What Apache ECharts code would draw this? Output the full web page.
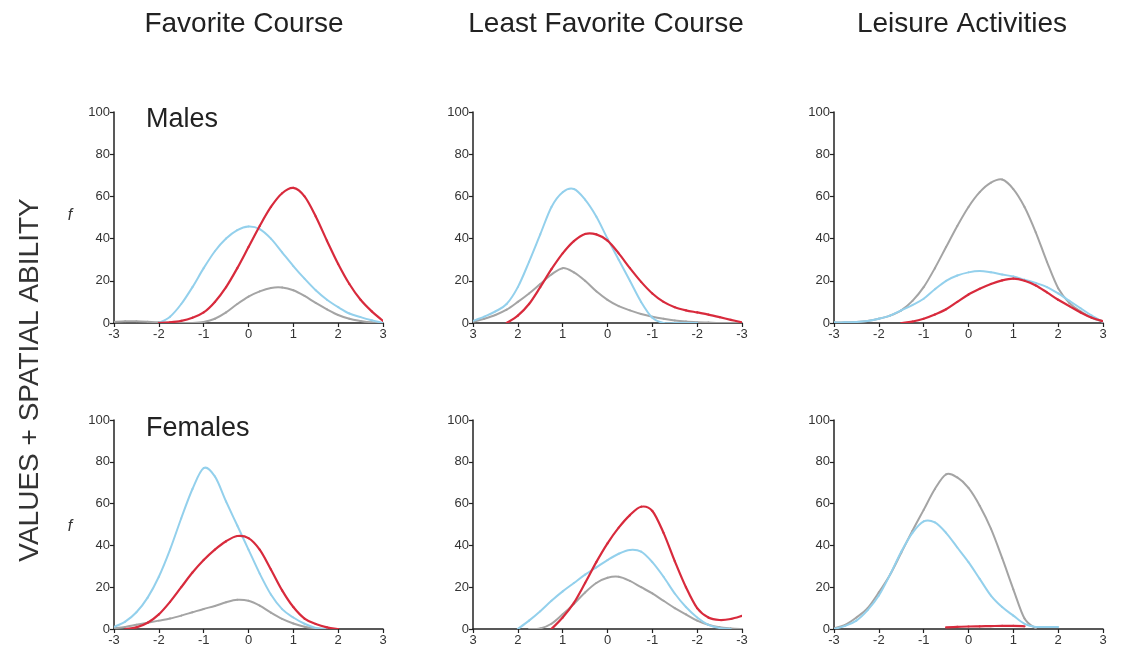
<!DOCTYPE html>
<html>
<head>
<meta charset="utf-8">
<script src="https://cdn.jsdelivr.net/npm/echarts@6/dist/echarts.min.js"></script>
<style>html,body{margin:0;padding:0;background:#fff}#c{width:1122px;height:657px}</style>
</head>
<body>
<div id="c"></div>
<script>
// Shared x positions (z-scores)
const xGrid = [-3,-2.75,-2.5,-2.25,-2,-1.75,-1.5,-1.25,-1,-0.75,-0.5,-0.25,0,0.25,0.5,0.75,1,1.25,1.5,1.75,2,2.25,2.5,2.75,3];
const yTicks = [0,20,40,60,80,100];
const columnTitles = ["Favorite Course","Least Favorite Course","Leisure Activities"];
const rowLabels = ["Males","Females"];
const n = null;

// Males – Favorite Course
const mFavBlue = [n,n,n,n,0,3,9,17,26,34,40,44,45.7,44.5,40,33.5,27,21,15.5,11,7.5,4.5,2.8,1.3,0];
const mFavGray = [0.5,0.8,0.8,0.6,0.3,0,0,0,0.5,2,5,9,12.5,15,16.6,16.8,15.5,12.8,9.5,6.5,3.8,2,1,0.3,0];
const mFavRed  = [n,n,n,n,0,0.3,1,2.5,5,10,17,26,36,46,55,61.5,64,60,50.5,39,28,18.5,11,5.5,1];
// Males – Least Favorite Course (axis runs 3 → -3)
const mLeastBlue = [n,n,n,n,0,0,0,0,2.5,10,20,30,40,50.5,58.5,63.5,62,55,42,29,17,9,5.5,3,1];
const mLeastGray = [0,0,0,0.2,0.4,0.7,1.2,2,3,4.3,6,8,11,15,20,24,26,23,18.5,14,10,6.3,3.8,2,0.5];
const mLeastRed  = [0.3,1.5,2.8,4,5,6,7.5,10,14,19.5,26,33,39,42,42.2,38.8,33,25.5,17,9,3.5,0,n,n,n];
// Males – Leisure Activities
const mLeisGray = [0.3,0.3,0.5,1,2,3.5,6,10.5,17,26,36,46,55,62,66.5,68,63.5,55,43,29,16.5,9.5,5.5,2.5,0.8];
const mLeisBlue = [0.3,0.3,0.5,1,2,3.5,6,8.5,11.5,16,20,22.5,24,24.6,24,23,22,20.5,19,17,14,10.5,7,3.5,0.5];
const mLeisRed  = [n,n,n,n,n,n,0,0.7,2,4,6.5,10,13.5,16.2,18.5,20.2,21,20,17.8,14.5,11,8,5,2.5,0.8];
// Females – Favorite Course
const fFavBlue = [1,3.5,8,15,25,38,53,67,77,73,61,49.5,38,26.5,16.5,9.5,5.5,2.5,0.5,0,n,n,n,n,n];
const fFavRed  = [n,0,0.8,3,7,13,20,27,33,38,42,44.5,43.5,38,28.5,18.5,10.5,5,2.4,0.8,0,n,n,n,n];
const fFavGray = [0.3,1,2,3,4,5,6.4,8,9.6,11,12.8,14,13.5,11.2,7.8,4.8,2.6,1.1,0.3,0,n,n,n,n,n];
// Females – Least Favorite Course (axis runs 3 → -3)
const fLeastBlue = [n,0,0.5,2,5.5,10.5,17,25,32,37,37.8,36,33,29.5,26,22,18,13.5,8.5,4,0,n,n,n,n];
const fLeastGray = [0,0.3,0.8,2,4,7,10,13.5,17,20,23,25,24.5,22,17.5,12,7,2.5,0.3,0,n,n,n,n,n];
const fLeastRed  = [6.3,4.8,4.3,5.5,10,20,32.5,46,56.5,58.5,54.5,48.5,41,32,22,12.5,5.5,0,n,n,n,n,n,n,n];
// Females – Leisure Activities
const fLeisGray = [0.3,2,5.5,10,17.5,26,36.5,47,57,67,74,72.5,67.5,59,48,34,19,5,0.3,n,n,n,n,n,n];
const fLeisBlue = [0,1.5,4,9,16,26,37,46,51.5,51,46,39,32,24,16,10.5,6.4,2.5,1,1,1,n,n,n,n];
const fLeisRed  = [n,n,n,n,n,n,n,n,n,n,0.8,1,1.2,1.3,1.4,1.5,1.5,1.3,n,n,n,n,n,n,n];

const BLUE = '#93d0ec', RED = '#d82a3c', GRAY = '#a4a4a4';
const FONT = '"Liberation Sans", Arial, Helvetica, sans-serif';

const panels = [
  {left:114, top:112, h:211, inv:false, s:[[mFavGray,GRAY],[mFavBlue,BLUE],[mFavRed,RED]]},
  {left:473, top:112, h:211, inv:true,  s:[[mLeastGray,GRAY],[mLeastBlue,BLUE],[mLeastRed,RED]]},
  {left:834, top:112, h:211, inv:false, s:[[mLeisGray,GRAY],[mLeisBlue,BLUE],[mLeisRed,RED]]},
  {left:114, top:420, h:209, inv:false, s:[[fFavGray,GRAY],[fFavBlue,BLUE],[fFavRed,RED]]},
  {left:473, top:420, h:209, inv:true,  s:[[fLeastGray,GRAY],[fLeastBlue,BLUE],[fLeastRed,RED]]},
  {left:834, top:420, h:209, inv:false, s:[[fLeisGray,GRAY],[fLeisBlue,BLUE],[fLeisRed,RED]]}
];

// Smooth curve (Catmull-Rom through the data points, mapped by the axes)
function makeRender(pts, col, lw){
  return function(params, api){
    const i = params.dataIndex;
    if (i >= pts.length - 1) return null;
    const P = k => api.coord(pts[Math.max(0, Math.min(pts.length-1, k))]);
    const p0 = P(i-1), p1 = P(i), p2 = P(i+1), p3 = P(i+2);
    return {type:'bezierCurve', silent:true,
      shape:{x1:p1[0], y1:p1[1], x2:p2[0], y2:p2[1],
        cpx1:p1[0]+(p2[0]-p0[0])/6, cpy1:p1[1]+(p2[1]-p0[1])/6,
        cpx2:p2[0]-(p3[0]-p1[0])/6, cpy2:p2[1]-(p3[1]-p1[1])/6},
      style:{stroke:col, lineWidth:lw, fill:null, lineCap:'round'}};
  };
}

const grids=[], xAxes=[], yAxes=[], series=[];
panels.forEach((p,i)=>{
  grids.push({left:p.left, top:p.top, width:269, height:p.h});
  xAxes.push({type:'value', gridIndex:i, min:-3, max:3, interval:1, inverse:p.inv,
    axisLine:{onZero:false, lineStyle:{color:'#222', width:1.5}},
    axisTick:{show:true, length:4, lineStyle:{color:'#222', width:1.2}},
    axisLabel:{color:'#333', fontSize:13, fontFamily:FONT, margin:5},
    splitLine:{show:false}});
  yAxes.push({type:'value', gridIndex:i, min:yTicks[0], max:yTicks[yTicks.length-1], interval:20,
    position:'left',
    axisLine:{show:true, onZero:false, lineStyle:{color:'#222', width:1.5}},
    axisTick:{show:true, length:4, lineStyle:{color:'#222', width:1.2}},
    axisLabel:{color:'#333', fontSize:13, fontFamily:FONT, margin:4},
    splitLine:{show:false}});
  p.s.forEach(([arr,col])=>{
    const data = [];
    xGrid.forEach((x,k)=>{ if(arr[k]!==null) data.push([x,arr[k]]); });
    series.push({type:'custom', coordinateSystem:'cartesian2d', xAxisIndex:i, yAxisIndex:i,
      data:data, encode:{x:0, y:1}, clip:true, silent:true,
      renderItem: makeRender(data, col, col===RED?2.2:2)});
  });
});

const colCenters = [239, 601, 957];
const titles = columnTitles.map((t,i)=>({text:t, left:colCenters[i], top:5, textAlign:'center',
  textStyle:{fontSize:28, fontWeight:'normal', color:'#222', fontFamily:FONT}}));

const chart = echarts.init(document.getElementById('c'), null, {renderer:'canvas'});
chart.setOption({
  animation:false,
  backgroundColor:'#fff',
  title:titles,
  grid:grids, xAxis:xAxes, yAxis:yAxes, series:series,
  graphic:[
    {type:'text', left:146, top:106, style:{text:rowLabels[0], fontSize:27, fill:'#222', fontFamily:FONT}},
    {type:'text', left:146, top:415, style:{text:rowLabels[1], fontSize:27, fill:'#222', fontFamily:FONT}},
    {type:'text', x:70, y:216, style:{text:'f', fontSize:16, fontStyle:'italic', fill:'#333', fontFamily:FONT, align:'center', verticalAlign:'middle'}},
    {type:'text', x:70, y:527, style:{text:'f', fontSize:16, fontStyle:'italic', fill:'#333', fontFamily:FONT, align:'center', verticalAlign:'middle'}},
    {type:'text', x:30, y:380, rotation:Math.PI/2, style:{text:'VALUES + SPATIAL ABILITY', fontSize:28, fill:'#333', fontFamily:FONT, align:'center', verticalAlign:'middle'}}
  ]
});
</script>
</body>
</html>
